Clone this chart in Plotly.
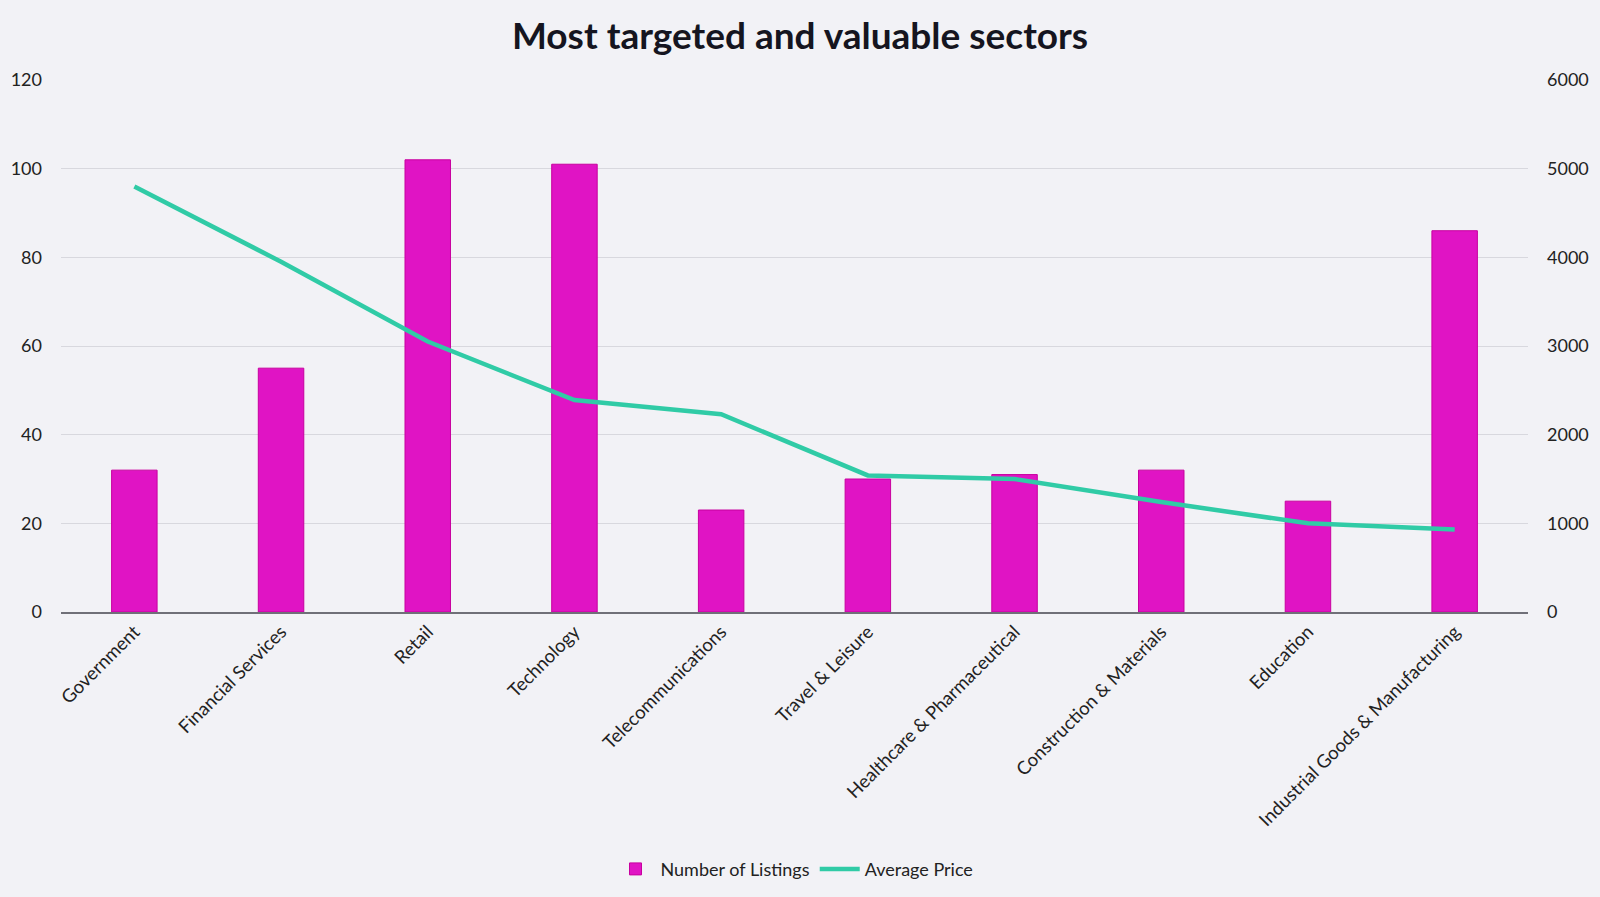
import plotly.graph_objects as go

categories = ["Government", "Financial Services", "Retail", "Technology", "Telecommunications",
              "Travel & Leisure", "Healthcare & Pharmaceutical", "Construction & Materials",
              "Education", "Industrial Goods & Manufacturing"]
listings = [32, 55, 102, 101, 23, 30, 31, 32, 25, 86]
avg_price = [4800, 3950, 3050, 2390, 2230, 1540, 1500, 1240, 1000, 930]

left_ticks = [0, 20, 40, 60, 80, 100, 120]
right_ticks = [0, 1000, 2000, 3000, 4000, 5000, 6000]

FONT = "Lato"

fig = go.Figure()
fig.add_trace(go.Bar(
    x=categories, y=listings, name="Number of Listings",
    marker=dict(color="#e014c4", line=dict(color="#c8009f", width=1)),
    yaxis="y",
))
fig.add_trace(go.Scatter(
    x=categories, y=avg_price, name="Average Price", mode="lines",
    line=dict(color="#30cba6", width=4.5),
    yaxis="y2",
))

fig.update_layout(
    width=1600, height=897,
    paper_bgcolor="#f2f2f6", plot_bgcolor="rgba(0,0,0,0)",
    margin=dict(l=61, r=72, t=80, b=285, autoexpand=False),
    font=dict(family=FONT, size=17, color="#222222"),
    title=dict(text="<b>Most targeted and valuable sectors</b>", x=0.5, xanchor="center",
               y=0.96, yanchor="middle",
               font=dict(family=FONT, size=37, color="#151520")),
    bargap=0.69,
    showlegend=True,
    legend=dict(orientation="h", x=0.5, xanchor="center", yref="container", y=0.031, yanchor="middle",
                font=dict(family=FONT, size=18, color="#222222"),
                bgcolor="rgba(0,0,0,0)", itemwidth=40),
    xaxis=dict(tickangle=-45, showgrid=False, showline=True, linecolor="#707078", linewidth=1.5,
               ticks="", tickfont=dict(size=18.5, family=FONT), range=[-0.5, 9.5], automargin=False),
    yaxis=dict(range=[0, 120], tickvals=left_ticks, showgrid=True, gridcolor="#d8d8de", gridwidth=1.2,
               zeroline=False, ticks="", ticklabelstandoff=18, tickfont=dict(size=18, family=FONT),
               automargin=False),
    yaxis2=dict(range=[0, 6000], tickvals=right_ticks, overlaying="y", side="right",
                showgrid=False, zeroline=False, ticks="", ticklabelstandoff=18,
                tickfont=dict(size=18, family=FONT), automargin=False),
)

fig.write_html("out.html", config={"displayModeBar": False},
               post_script="document.body.style.margin='0';document.body.style.overflow='hidden';")
